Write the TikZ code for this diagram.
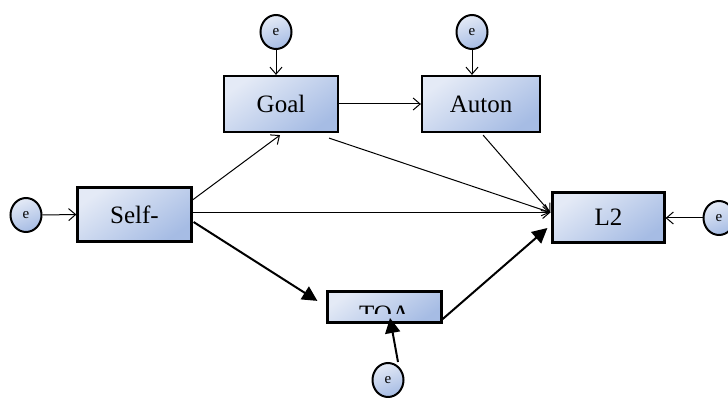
\documentclass[tikz,border=0pt]{standalone}
\usepackage{fontspec}
\setmainfont{Liberation Serif}
\usetikzlibrary{shapes.geometric,arrows.meta,calc}
\definecolor{boxlight}{HTML}{E4EAF6}
\definecolor{boxdark}{HTML}{A6BCE4}
\tikzset{
  box/.style={draw=black, line width=2.2pt, top color=boxlight, bottom color=boxdark, shading angle=35,
    inner sep=0pt, font=\fontsize{25}{25}\selectfont},
  err/.style={ellipse, draw=black, line width=2pt, top color=boxlight, bottom color=boxdark, shading angle=20,
    minimum width=31pt, minimum height=34pt, inner sep=0pt, font=\fontsize{15}{15}\selectfont},
  thin/.style={line width=1pt, -{Straight Barb[length=7pt,width=12pt,line width=1pt]}},
  thick/.style={line width=2pt, -{Triangle[length=15pt,width=15pt]}},
}
\begin{document}
\begin{tikzpicture}[x=1pt,y=-1pt]
\clip (0,0) rectangle (728,398);
\fill[white] (0,0) rectangle (728,398);
% boxes
\node[box, minimum width=114pt, minimum height=56pt] (goal) at (281,104) {Goal};
\node[box, minimum width=118pt, minimum height=56pt] (auton) at (481,104) {Auton};
\node[box, minimum width=114pt, minimum height=54pt] (self) at (134.5,214.5) {Self-};
\node[box, minimum width=112pt, minimum height=50pt] (l2) at (608.5,217.5) {\raisebox{-2pt}{L2}};
\node[box, minimum width=114pt, minimum height=31pt] (toa) at (384.5,307) {};
\begin{scope}
  \clip ([xshift=2pt]toa.north west) rectangle ([xshift=-2pt,yshift=10pt]toa.south east);
  \node[anchor=base, inner sep=0pt, font=\fontsize{25}{25}\selectfont] (toatext) at ([yshift=1.5pt]toa.south) {TOA};
\end{scope}
% error terms
\node[err] (eself) at (26,215) {\raisebox{-6pt}{e}};
\node[err] (egoal) at (276,32) {\raisebox{-6pt}{e}};
\node[err] (eauton) at (472,32) {\raisebox{-6pt}{e}};
\node[err] (el2) at (719,218) {\raisebox{-6pt}{e}};
\node[err] (etoa) at (388,380) {\raisebox{-6pt}{e}};
\coordinate (hub) at ([yshift=5pt,xshift=-1pt]l2.west);
% connectors
\draw[thin] (eself.east) -- (self.west);
\draw[thin] (egoal.south) -- (goal.north -| egoal.south);
\draw[thin] (eauton.south) -- (auton.north -| eauton.south);
\draw[thin] (el2.west) -- (l2.east |- el2.west);
\draw[thin] (goal.east) -- (auton.west);
\draw[thin] ([xshift=-2pt]self.north east) ++(0,15) coordinate (s1) (s1) -- ([xshift=-1pt,yshift=-2pt]goal.south);
\draw[thin] (self.east |- hub) -- (hub);
\draw[thin] ([xshift=-10pt,yshift=-5pt]goal.south east) -- (hub);
\draw[thin] ([xshift=-58pt,yshift=-2pt]auton.south east) -- (hub);
\draw[thick] ([xshift=1pt,yshift=-7.5pt]self.east) -- ([xshift=-9pt,yshift=-10.5pt]toa.north west);
\draw[thick] ([yshift=4.5pt]toa.south east) -- ([xshift=-4pt,yshift=-10.5pt]l2.west);
\draw[thick] ([xshift=10pt]etoa.north) -- ([xshift=5.5pt,yshift=-11pt]toa.center);
\end{tikzpicture}
\end{document}
